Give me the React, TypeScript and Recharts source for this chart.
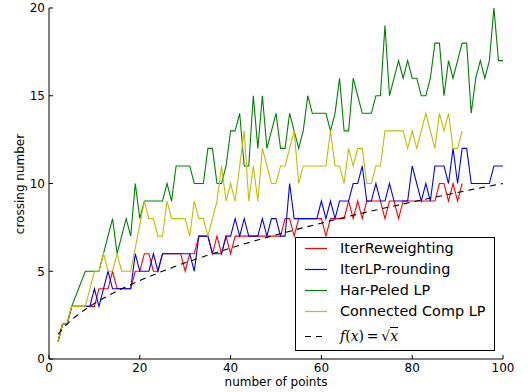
import { LineChart, Line, XAxis, YAxis, Legend } from "recharts";

// number of points, 2..100
const firstPoint = 2;
const lastPoint = 100;

// crossing numbers, one value per point count starting at 2 (null = no point drawn)
const iterReweighting = [
  1, 2, 2, 3, 3, 3, 3, 3, 3, 4, 4, 4, 5, 4, 4, 4, 4, 5, 5, 6,
  6, 5, 5, 6, 6, 6, 6, 6, 5, 6, 6, 7, 7, 7, 6, 7, 6, 7, 6, 7,
  7, 7, 7, 7, 7, 7, 7, 7, 7, 7, 8, 8, 7, 8, 8, 8, 8, 8, 8, 7,
  8, 8, 8, 8, 9, 8, 9, 8, 9, 9, 9, 9, 8, 9, 9, 8, 9, 9, 9, 9,
  9, 9, 9, 9, 10, 10, 9, 10, 9, 10,
];

const iterLPRounding = [
  1, 2, 2, 3, 3, 3, 3, 3, 4, 3, 4, 5, 4, 4, 4, 4, 4, 6, 5, 5,
  5, 6, 5, 6, 6, 6, 6, 6, 6, 6, 5, 7, 7, 7, 6, 6, 6, 7, 7, 8,
  7, 8, 7, 7, 7, 8, 7, 8, 8, 7, 7, 10, 8, 8, 8, 8, 8, 8, 9, 8,
  9, 8, 9, 9, 9, 10, 10, 11, 9, 9, 10, 9, 9, 10, 9, 9, 9, 9, 11, 10,
  9, 10, 9, 11, 11, 11, 10, 12, 10, 12, 12, 10, 10, 10, 10, 10, 11, 11, 11,
];

const harPeledLP = [
  1, 2, 2, 3, null, null, 5, 5, 5, 5, 6, 7, 8, 6, 7, 8, 7, 10, 8, 9,
  9, 9, 9, 9, 10, 9, 11, 11, 11, 11, 10, 10, 10, 12, 12, 10, 10, 11, 13, 13,
  14, 11, 11, 15, 12, 15, 12, 13, 14, 12, 12, 14, 13, 12, 13, 15, 14, 14, 14, 14,
  13, 14, 16, 13, 13, 16, 15, 14, 14, 14, 15, 15, 19, 15, 16, 17, 16, 17, 16, 16,
  15, 15, 16, 18, 18, 15, 17, 16, 17, 18, 18, 14, 16, 17, 16, 17, 20, 17, 17,
];

const connectedCompLP = [
  1, 2, 2, 3, 3, 3, 3, 4, 5, 5, 6, 5, 5, 6, 5, 5, 5, null, null, 9,
  8, 8, 7, 7, 9, 8, 8, 8, 8, 7, 9, 8, 8, 7, 8, 9, 11, 9, 10, 9,
  11, 13, 9, 11, 9, 12, 11, 10, 10, 11, 11, 12, 13, 10, 11, 11, 11, 11, 11, 11,
  13, 11, 11, 10, 12, 11, 12, 12, 10, 10, 11, 11, 13, 13, 13, 13, 13, 12, 13, 12,
  13, 14, 13, 12, 14, 13, 14, 12, 12, 13,
];

// f(x) = sqrt(x)
const sqrtX = [2, 3, 4, 6, 9, 12, 16, 20, 25, 30, 36, 42, 49, 56, 64, 72, 81, 90, 100];
const sqrtY = [1.41, 1.73, 2, 2.45, 3, 3.46, 4, 4.47, 5, 5.48, 6, 6.48, 7, 7.48, 8, 8.49, 9, 9.49, 10];

const xTicks = [0, 20, 40, 60, 80, 100];
const yTicks = [0, 5, 10, 15, 20];

const series = [
  { key: "red", name: "IterReweighting", color: "#ff0000", values: iterReweighting },
  { key: "blue", name: "IterLP-rounding", color: "#0000ff", values: iterLPRounding },
  { key: "green", name: "Har-Peled LP", color: "#008000", values: harPeledLP },
  { key: "yellow", name: "Connected Comp LP", color: "#bfbf00", values: connectedCompLP },
];

const rows: Record<string, number | null>[] = [];
for (let x = firstPoint; x <= lastPoint; x++) {
  const row: Record<string, number | null> = { x };
  series.forEach((s) => {
    const v = s.values[x - firstPoint];
    row[s.key] = v === undefined ? null : v;
  });
  const k = sqrtX.indexOf(x);
  row.sqrt = k >= 0 ? sqrtY[k] : null;
  rows.push(row);
}

const font = "'DejaVu Sans', sans-serif";

function LegendBox() {
  const rowStyle = { display: "flex", alignItems: "center", height: 21 };
  const sample = (color: string, dash?: string) => (
    <svg width={44} height={21} style={{ display: "block" }}>
      <line x1={9} x2={31} y1={10.5} y2={10.5} stroke={color} strokeWidth={1.2} strokeDasharray={dash} />
    </svg>
  );
  return (
    <div
      style={{
        width: 198,
        height: 112,
        border: "1px solid #000",
        background: "#fff",
        fontFamily: font,
        fontSize: 14.4,
        color: "#000",
        lineHeight: "21px",
      }}
    >
      {series.map((s) => (
        <div key={s.key} style={rowStyle}>
          {sample(s.color)}
          <span>{s.name}</span>
        </div>
      ))}
      <div style={{ ...rowStyle, marginTop: 3.5 }}>
        {sample("#000", "6 5")}
        <span style={{ fontFamily: "'DejaVu Serif', serif", fontSize: 14 }}>
          <i>f</i>(<i>x</i>)&thinsp;=&thinsp;√<span style={{ borderTop: "1px solid #000" }}><i>x</i></span>
        </span>
      </div>
    </div>
  );
}

const xLabel = () => (
  <text x={276} y={386} textAnchor="middle" fill="#000" fontSize={12} fontFamily={font}>
    number of points
  </text>
);

const yLabel = () => (
  <text x={0} y={0} transform="translate(24,184) rotate(-90)" textAnchor="middle" fill="#000" fontSize={12} fontFamily={font}>
    crossing number
  </text>
);

export default function App() {
  return (
    <div style={{ position: "fixed", left: 0, top: 0, width: 528, height: 392, overflow: "hidden", background: "#fff" }}>
      <LineChart width={528} height={392} data={rows} margin={{ top: 8, right: 25, bottom: 0, left: 0 }}>
        <XAxis
          dataKey="x"
          type="number"
          domain={[0, 100]}
          ticks={xTicks}
          height={33}
          tickSize={-4}
          tickMargin={8}
          stroke="#000"
          tick={{ fill: "#000", fontSize: 12, fontFamily: font }}
          label={{ content: xLabel }}
        />
        <XAxis xAxisId="top" dataKey="x" type="number" domain={[0, 100]} ticks={xTicks} orientation="top" height={0} tickSize={-4} tick={false} stroke="#000" />
        <YAxis
          type="number"
          domain={[0, 20]}
          ticks={yTicks}
          width={49}
          tickSize={-4}
          tickMargin={8}
          stroke="#000"
          tick={{ fill: "#000", fontSize: 12, fontFamily: font }}
          label={{ content: yLabel }}
        />
        <YAxis yAxisId="right" type="number" domain={[0, 20]} ticks={yTicks} orientation="right" width={0} tickSize={-4} tick={false} stroke="#000" />
        {series.map((s) => (
          <Line
            key={s.key}
            dataKey={s.key}
            name={s.name}
            stroke={s.color}
            strokeWidth={1.1}
            dot={false}
            connectNulls
            type="linear"
            isAnimationActive={false}
          />
        ))}
        <Line
          dataKey="sqrt"
          name="f(x)"
          stroke="#000"
          strokeWidth={1.1}
          strokeDasharray="6 5"
          dot={false}
          connectNulls
          type="monotone"
          isAnimationActive={false}
        />
        <Legend
          layout="vertical"
          align="center"
          verticalAlign="middle"
          content={() => <LegendBox />}
          wrapperStyle={{ left: 295, top: 237, width: 200, height: 114 }}
        />
      </LineChart>
    </div>
  );
}
